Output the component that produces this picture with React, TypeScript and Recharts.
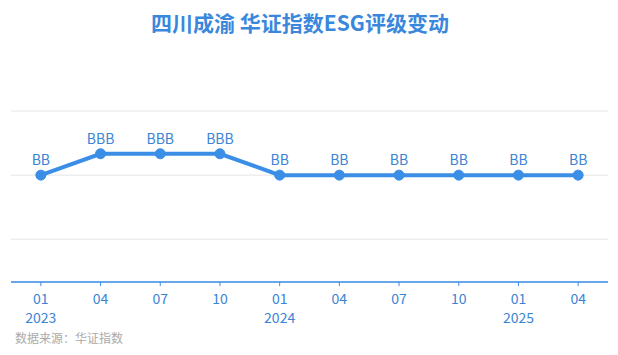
import React from 'react';
import { LineChart, Line, XAxis, YAxis, CartesianGrid, LabelList } from 'recharts';

const periods = ['2023-01', '2023-04', '2023-07', '2023-10', '2024-01', '2024-04', '2024-07', '2024-10', '2025-01', '2025-04'];
const monthLabels = ['01', '04', '07', '10', '01', '04', '07', '10', '01', '04'];
const yearLabels = ['2023', '', '', '', '2024', '', '', '', '2025', ''];
const ratings = ['BB', 'BBB', 'BBB', 'BBB', 'BB', 'BB', 'BB', 'BB', 'BB', 'BB'];
const ratingScale = ['C', 'CC', 'CCC', 'B', 'BB', 'BBB', 'A', 'AA', 'AAA'];
const yTicks = [2, 5, 8];

const data = periods.map((p, i) => ({
  period: p,
  month: monthLabels[i],
  year: yearLabels[i],
  rating: ratings[i],
  value: ratingScale.indexOf(ratings[i]) + 1,
}));

const FONT = '"Noto Sans CJK SC", "Noto Sans", sans-serif';
const BLUE = '#3a8ee6';
const TEXT_BLUE = '#3b84d4';

const Tick = (props: any) => {
  const { x, y, index } = props;
  const d = data[index];
  return (
    <g>
      <text x={x} y={y + 16} textAnchor="middle" fontSize={14} fill={TEXT_BLUE} fontFamily={FONT}>
        {d.month}
      </text>
      {d.year ? (
        <text x={x} y={y + 35} textAnchor="middle" fontSize={14} fill={TEXT_BLUE} fontFamily={FONT}>
          {d.year}
        </text>
      ) : null}
    </g>
  );
};

export default function App() {
  return (
    <div style={{ position: 'absolute', left: 0, top: 0, width: 618, height: 355, background: '#fff', fontFamily: FONT }}>
      <div
        style={{
          position: 'absolute',
          left: 0,
          top: 8,
          width: 600,
          textAlign: 'center',
          fontSize: 21,
          fontWeight: 'bold',
          color: '#3a87dc',
          lineHeight: '28px',
        }}
      >
        四川成渝 华证指数ESG评级变动
      </div>
      <LineChart width={618} height={355} data={data} margin={{ top: 111, right: 10, left: 11, bottom: 0 }}>
        <CartesianGrid horizontal vertical={false} stroke="#eeeeee" strokeWidth={1.5} />
        <XAxis
          dataKey="period"
          scale="band"
          interval={0}
          tick={<Tick />}
          tickSize={4}
          axisLine={{ stroke: BLUE, strokeWidth: 1.5 }}
          tickLine={{ stroke: BLUE }}
          height={73}
        />
        <YAxis hide domain={[0, 8]} ticks={yTicks} />
        <Line
          type="linear"
          dataKey="value"
          stroke={BLUE}
          strokeWidth={4}
          dot={{ r: 5, fill: BLUE, stroke: BLUE, strokeWidth: 1 }}
          isAnimationActive={false}
        >
          <LabelList
            dataKey="rating"
            position="top"
            offset={10}
            fill={TEXT_BLUE}
            fontSize={14}
            fontFamily={FONT}
          />
        </Line>
      </LineChart>
      <div
        style={{
          position: 'absolute',
          left: 15,
          top: 329,
          fontSize: 12,
          color: '#aaaaaa',
          lineHeight: '17px',
          whiteSpace: 'nowrap',
        }}
      >
        数据来源：华证指数
      </div>
    </div>
  );
}
